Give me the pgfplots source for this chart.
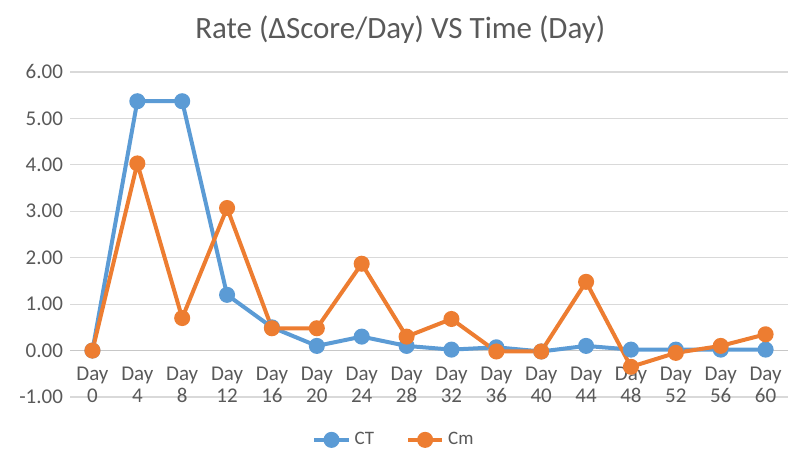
\documentclass[border=0pt]{standalone}
\usepackage{pgfplots}
\pgfplotsset{compat=1.18}
\usepackage{fontspec}
\setmainfont{Carlito}
\definecolor{ctb}{HTML}{5B9BD5}
\definecolor{cmo}{HTML}{ED7D31}
\definecolor{txt}{HTML}{595959}
\definecolor{grd}{HTML}{D9D9D9}
\begin{document}
\begin{tikzpicture}
\begin{axis}[
  scale only axis, width=359pt, height=162.5pt,
  xmin=-0.5, xmax=15.5, ymin=-1, ymax=6,
  axis line style={draw=none}, clip=false,
  xtick={0,...,15}, major tick length=0pt,
  xticklabels={{Day\\0},{Day\\4},{Day\\8},{Day\\12},{Day\\16},{Day\\20},{Day\\24},{Day\\28},{Day\\32},{Day\\36},{Day\\40},{Day\\44},{Day\\48},{Day\\52},{Day\\56},{Day\\60}},
  xticklabel style={align=center, font=\fontsize{10.5}{11}\selectfont, text=txt, yshift=18.5pt},
  ytick={-1,0,...,6}, ymajorgrids, grid style={grd, line width=0.6pt},
  yticklabel style={font=\fontsize{10.5}{11}\selectfont, text=txt, /pgf/number format/.cd, fixed, fixed zerofill, precision=2, assume math mode=true},
  legend style={at={(0.4526,-0.132)}, anchor=center, draw=none, legend columns=2, font=\fontsize{9.5}{11}\selectfont, text=txt, /tikz/every even column/.append style={column sep=14pt}},
  legend cell align=left,
]
\draw[use as bounding box, draw=none] (rel axis cs:-0.0975,-0.2092) rectangle (rel axis cs:1.0167,1.2215);
\draw[grd!80!gray, line width=0.6pt] (axis cs:-0.5,0) -- (axis cs:15.5,0);
\addplot[ctb, line width=2pt, mark=*, mark size=3pt] coordinates {
(0,0) (1,5.37) (2,5.37) (3,1.2) (4,0.5) (5,0.1) (6,0.3) (7,0.1) (8,0.02) (9,0.07) (10,-0.02) (11,0.1) (12,0.02) (13,0.02) (14,0.02) (15,0.02)};
\addlegendentry{CT}
\addplot[cmo, line width=2pt, mark=*, mark size=3pt] coordinates {
(0,0) (1,4.03) (2,0.7) (3,3.07) (4,0.48) (5,0.48) (6,1.87) (7,0.3) (8,0.68) (9,-0.02) (10,-0.02) (11,1.48) (12,-0.35) (13,-0.05) (14,0.1) (15,0.35)};
\addlegendentry{Cm}
\node[text=txt, font=\fontsize{15.5}{17}\selectfont] at (rel axis cs:0.46,1.129) {Rate (ΔScore/Day) VS Time (Day)};
\end{axis}
\end{tikzpicture}
\end{document}
